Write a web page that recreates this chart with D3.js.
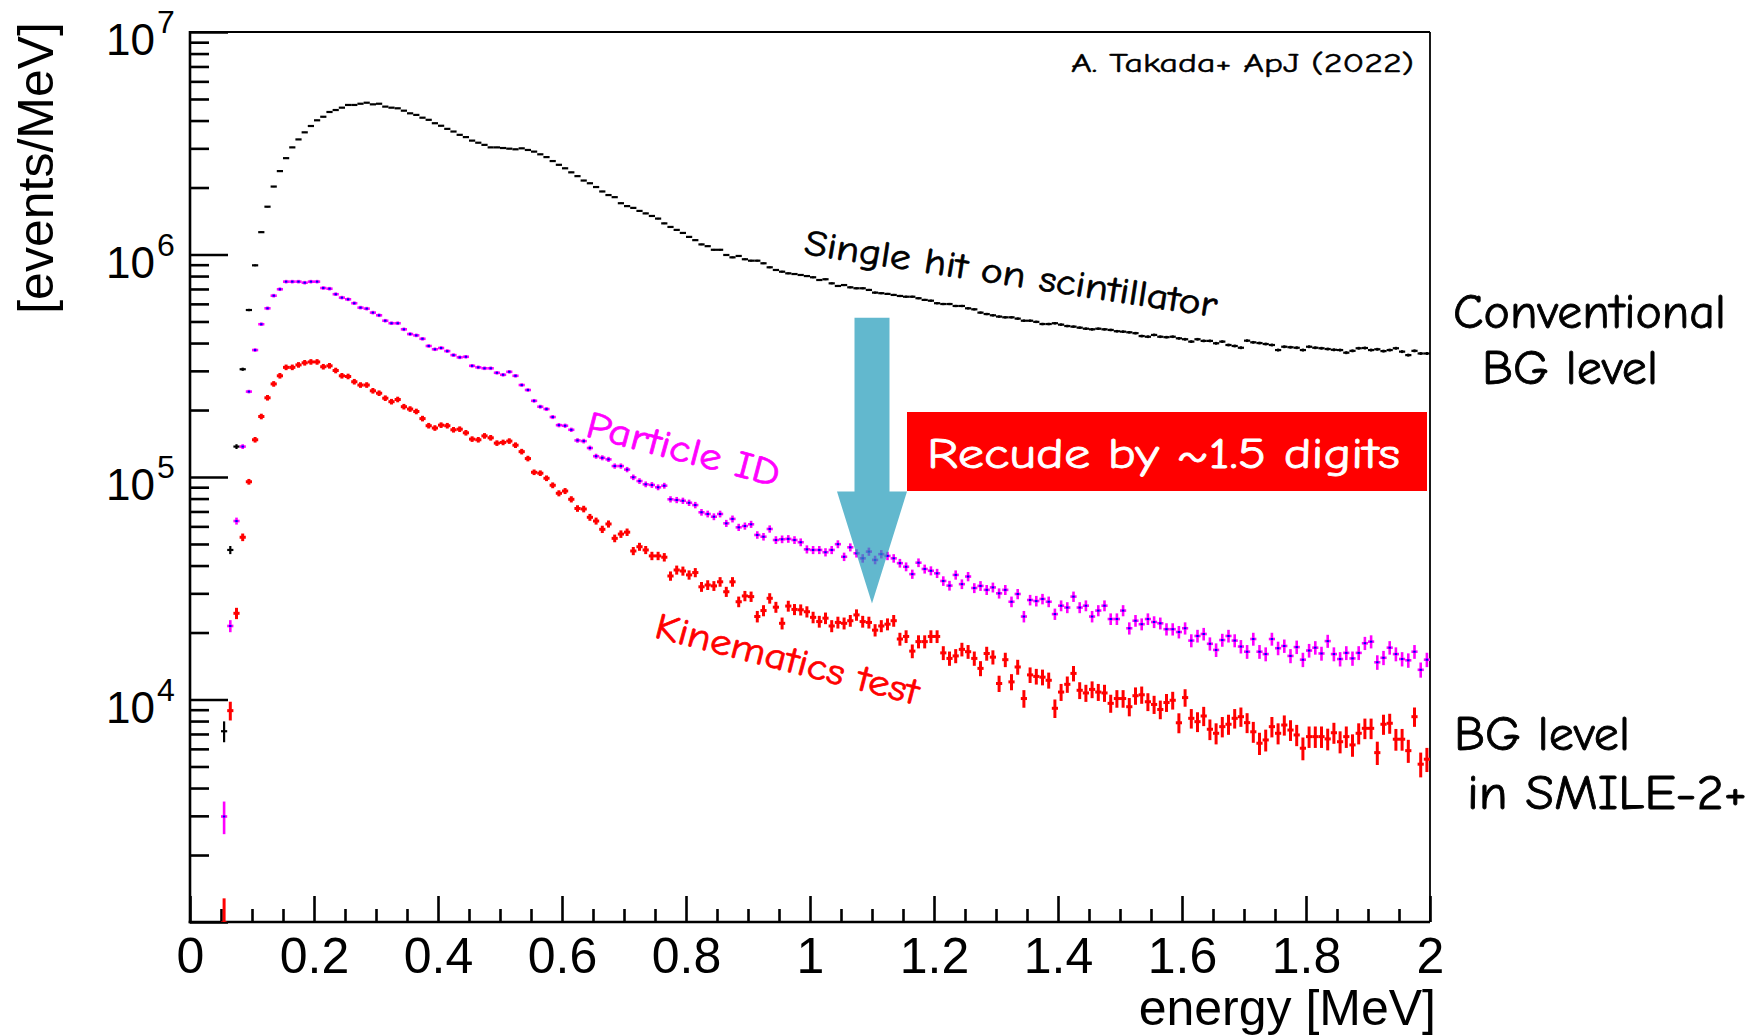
<!DOCTYPE html>
<html><head><meta charset="utf-8">
<script src="https://cdn.jsdelivr.net/npm/d3@7"></script>
<style>
body{margin:0;background:#fff}
svg{display:block}
</style>
</head><body>
<svg id="chart" width="1756" height="1035"></svg>
<script>
// Energy spectra, 0.01 MeV bins, first filled bin starts at 0.05 MeV
const binWidth = 0.01;
const firstBinLow = 0.05;

// Single hit on scintillator (events/MeV)
const singleHit = [
  7200, 47000, 137000, 305000, 563000, 894000, 1260000, 1640000, 2020000, 2370000,
  2710000, 3030000, 3290000, 3540000, 3780000, 4010000, 4160000, 4370000, 4460000, 4570000,
  4700000, 4700000, 4760000, 4810000, 4730000, 4760000, 4620000, 4570000, 4540000, 4430000,
  4310000, 4240000, 4120000, 4030000, 3890000, 3790000, 3670000, 3570000, 3450000, 3370000,
  3250000, 3180000, 3110000, 3030000, 3030000, 3010000, 2990000, 2970000, 3000000, 2950000,
  2900000, 2820000, 2740000, 2630000, 2530000, 2440000, 2340000, 2250000, 2150000, 2090000,
  2010000, 1920000, 1850000, 1810000, 1700000, 1650000, 1620000, 1570000, 1530000, 1490000,
  1450000, 1380000, 1330000, 1290000, 1250000, 1200000, 1160000, 1110000, 1090000, 1050000,
  1050000, 995000, 971000, 985000, 952000, 938000, 938000, 913000, 876000, 852000,
  837000, 823000, 817000, 809000, 800000, 790000, 768000, 774000, 742000, 722000,
  729000, 712000, 705000, 705000, 693000, 674000, 670000, 665000, 658000, 651000,
  646000, 646000, 636000, 625000, 620000, 604000, 599000, 599000, 587000, 587000,
  573000, 567000, 548000, 540000, 533000, 526000, 522000, 522000, 515000, 504000,
  504000, 498000, 487000, 487000, 491000, 484000, 477000, 474000, 469000, 464000,
  461000, 464000, 461000, 458000, 452000, 450000, 447000, 443000, 430000, 427000,
  435000, 427000, 425000, 427000, 420000, 416000, 406000, 416000, 409000, 409000,
  399000, 406000, 392000, 388000, 381000, 410000, 403000, 400000, 396000, 392000,
  372000, 385000, 383000, 381000, 372000, 385000, 381000, 379000, 376000, 373000,
  372000, 362000, 369000, 379000, 380000, 372000, 375000, 368000, 372000, 379000,
  366000, 353000, 369000, 359000, 359000
];

// After particle identification
const particleId = [
  2980, 21400, 63400, 137000, 242000, 372000, 486000, 573000, 653000, 698000,
  755000, 755000, 755000, 747000, 755000, 755000, 707000, 702000, 663000, 640000,
  629000, 604000, 577000, 571000, 548000, 533000, 504000, 491000, 491000, 461000,
  439000, 433000, 418000, 388000, 375000, 380000, 368000, 353000, 345000, 347000,
  316000, 311000, 308000, 308000, 294000, 288000, 297000, 285000, 259000, 246000,
  220000, 207000, 202000, 186000, 171000, 170000, 163000, 146000, 145000, 135000,
  124000, 122000, 120000, 112000, 112000, 108000, 99700, 95900, 92700, 92100,
  89900, 91400, 79400, 78800, 78200, 76600, 74800, 69400, 68200, 66300,
  68200, 61900, 64800, 59400, 60200, 61300, 54900, 53900, 58400, 52100,
  52500, 52700, 52100, 50900, 47300, 47000, 47000, 45900, 47000, 49900,
  43800, 48300, 45400, 43100, 46200, 42400, 45000, 44200, 43100, 41000,
  39500, 36600, 41200, 38600, 37900, 36900, 34100, 32500, 36300, 33000,
  35700, 31700, 32400, 31100, 31900, 30000, 31100, 27500, 29800, 23600,
  28000, 27700, 28300, 27500, 24200, 26400, 25900, 29000, 25900, 26400,
  23600, 25100, 26400, 23000, 23000, 25100, 20900, 22600, 21800, 23000,
  22300, 22000, 20700, 20700, 20100, 20900, 18400, 19300, 19700, 17800,
  16700, 18500, 19300, 18400, 17300, 16400, 18700, 16400, 16000, 18700,
  17000, 17400, 15700, 17200, 15100, 16600, 17100, 16100, 18300, 16000,
  15200, 16200, 15300, 16200, 17900, 18200, 14700, 15400, 17100, 16000,
  15200, 15000, 16400, 13600, 15100
];

// After the kinematics test
const kinematics = [
  990, 8910, 24400, 53600, 95200, 147000, 187000, 227000, 262000, 285000,
  311000, 311000, 319000, 326000, 329000, 329000, 313000, 316000, 301000, 285000,
  283000, 268000, 259000, 259000, 244000, 238000, 226000, 218000, 223000, 207000,
  202000, 197000, 183000, 170000, 166000, 171000, 170000, 163000, 164000, 158000,
  148000, 147000, 153000, 150000, 142000, 143000, 145000, 139000, 130000, 121000,
  105000, 104000, 98700, 91800, 84500, 86500, 79400, 72200, 71800, 65900,
  63400, 58200, 61500, 53000, 55400, 56500, 46500, 48600, 47000, 44200,
  44200, 43600, 35900, 38200, 37800, 36300, 37200, 32100, 32700, 32400,
  33800, 30500, 33800, 27500, 29200, 29000, 23600, 25100, 28500, 26000,
  22000, 26300, 25400, 25300, 24800, 23400, 22400, 23200, 21400, 22200,
  22000, 22600, 24000, 22400, 22200, 20500, 21400, 21800, 22600, 18700,
  19200, 16500, 18200, 18200, 19200, 19200, 16200, 15300, 15700, 16800,
  16400, 15300, 13800, 16100, 15500, 11800, 15100, 12000, 14000, 10100,
  12900, 12700, 12600, 12200, 9130, 10800, 11700, 13100, 11000, 10700,
  11100, 10800, 10700, 9610, 10100, 10100, 9280, 10400, 10500, 9770,
  9500, 9020, 9690, 9920, 7860, 10200, 8230, 7950, 8430, 7350,
  7050, 7550, 7740, 8230, 8370, 7870, 7160, 6360, 6580, 7550,
  7050, 7680, 7290, 6930, 6040, 6810, 6810, 6810, 6650, 7090,
  6460, 6810, 6250, 7050, 7420, 7420, 5770, 7740, 7820, 6630,
  6630, 5890, 8370, 5120, 5390
];

// Poisson errors: counts per bin = value * countsPerUnit
const countsPerUnit = 0.012;

const xMajorTicks = [0, 0.2, 0.4, 0.6, 0.8, 1, 1.2, 1.4, 1.6, 1.8, 2];
const xTickLabels = ["0", "0.2", "0.4", "0.6", "0.8", "1", "1.2", "1.4", "1.6", "1.8", "2"];
const yDecadeExponents = [3, 4, 5, 6, 7];
const yLabelExponents = ["4", "5", "6", "7"];

// Guide arrow at 1.1 MeV, from the single-hit level down to the kinematics level
const arrowEnergy = 1.1;
const arrowTop = 5.2e5, arrowHeadBase = 8.6e4, arrowTip = 2.7e4;

(function () {
const svg = d3.select("#chart");
const plotLeft = 190, plotRight = 1430, plotTop = 32, plotBottom = 922;

const x = d3.scaleLinear().domain([0, 2]).range([plotLeft, plotRight]);
const y = d3.scaleLog().domain([1e3, 1e7]).range([plotBottom, plotTop]);

const axisFont = "'Liberation Sans', Arial, Helvetica, sans-serif";
const handFont = "'Comic Sans MS', 'Comic Neue', 'DejaVu Sans', sans-serif";

svg.append("defs").append("clipPath").attr("id", "plotClip")
  .append("rect").attr("x", plotLeft).attr("y", plotTop)
  .attr("width", plotRight - plotLeft).attr("height", plotBottom - plotTop);

// ---- axes ----
const xMinor = d3.range(0, 41).map(i => i * 0.05).filter(v => Math.abs(v * 5 - Math.round(v * 5)) > 1e-6);
const gxMinor = svg.append("g").attr("transform", `translate(0,${plotBottom})`)
  .call(d3.axisTop(x).tickValues(xMinor).tickSize(13).tickFormat(""));
const gxMajor = svg.append("g").attr("transform", `translate(0,${plotBottom})`)
  .call(d3.axisTop(x).tickValues(xMajorTicks).tickSize(26).tickFormat(""));
const gxLab = svg.append("g").attr("transform", `translate(0,${plotBottom})`)
  .call(d3.axisBottom(x).tickValues(xMajorTicks).tickSize(0).tickPadding(15)
    .tickFormat((d, i) => xTickLabels[i]));
gxLab.selectAll("text").attr("font-family", axisFont).attr("font-size", 50).attr("fill", "#000");

const yMinor = [];
yDecadeExponents.slice(0, -1).forEach(e => { for (let m = 2; m <= 9; m++) yMinor.push(m * Math.pow(10, e)); });
const yMajor = yDecadeExponents.map(e => Math.pow(10, e));
const gyMinor = svg.append("g").attr("transform", `translate(${plotLeft},0)`)
  .call(d3.axisRight(y).tickValues(yMinor).tickSize(19).tickFormat(""));
const gyMajor = svg.append("g").attr("transform", `translate(${plotLeft},0)`)
  .call(d3.axisRight(y).tickValues(yMajor).tickSize(38).tickFormat(""));

[gxMinor, gxMajor, gxLab, gyMinor, gyMajor].forEach(g => {
  g.select(".domain").remove();
  g.selectAll(".tick line").attr("stroke", "#000").attr("stroke-width", 2.6);
});

// y tick labels: 10 with superscript exponent
yLabelExponents.forEach(e => {
  const yy = y(Math.pow(10, +e));
  svg.append("text").attr("x", 155).attr("y", yy + 23).attr("text-anchor", "end")
    .attr("font-family", axisFont).attr("font-size", 44).text("10");
  svg.append("text").attr("x", 157).attr("y", yy + 1)
    .attr("font-family", axisFont).attr("font-size", 32).text(e);
});

// frame
svg.append("line").attr("x1", plotLeft).attr("x2", plotRight).attr("y1", plotTop).attr("y2", plotTop)
  .attr("stroke", "#000").attr("stroke-width", 1.8);
svg.append("line").attr("x1", plotRight).attr("x2", plotRight).attr("y1", plotTop).attr("y2", plotBottom)
  .attr("stroke", "#000").attr("stroke-width", 1.8);
svg.append("line").attr("x1", plotLeft).attr("x2", plotLeft).attr("y1", plotTop - 1).attr("y2", plotBottom + 1.3)
  .attr("stroke", "#000").attr("stroke-width", 2.6);
svg.append("line").attr("x1", plotLeft - 1.3).attr("x2", plotRight).attr("y1", plotBottom).attr("y2", plotBottom)
  .attr("stroke", "#000").attr("stroke-width", 2.6);

// axis titles
svg.append("text").attr("x", 1436).attr("y", 1025).attr("text-anchor", "end")
  .attr("font-family", axisFont).attr("font-size", 50).text("energy [MeV]");
svg.append("text").attr("transform", "translate(53,22) rotate(-90)").attr("text-anchor", "end")
  .attr("font-family", axisFont).attr("font-size", 50).text("[events/MeV]");

// ---- data: bins with horizontal bin-width bar and Poisson vertical error ----
const plot = svg.append("g").attr("clip-path", "url(#plotClip)");

function bins(values) {
  return values.map((v, i) => {
    const lo = firstBinLow + binWidth * i;
    const err = Math.sqrt(v / countsPerUnit);
    return { lo, hi: lo + binWidth, mid: lo + binWidth / 2, v, up: v + err, dn: Math.max(v - err, 1) };
  });
}

function drawSeries(values, color, width, marker) {
  const g = plot.append("g");
  const data = bins(values);
  g.selectAll("line.h").data(data).join("line").attr("class", "h")
    .attr("x1", d => x(d.lo)).attr("x2", d => x(d.hi))
    .attr("y1", d => y(d.v)).attr("y2", d => y(d.v))
    .attr("stroke", color).attr("stroke-width", width);
  g.selectAll("line.v").data(data).join("line").attr("class", "v")
    .attr("x1", d => x(d.mid)).attr("x2", d => x(d.mid))
    .attr("y1", d => Math.min(y(d.up), y(d.v) - marker.minHalf))
    .attr("y2", d => Math.max(y(d.dn), y(d.v) + marker.minHalf))
    .attr("stroke", color).attr("stroke-width", width);
  if (marker.fill) {
    g.selectAll("rect").data(data).join("rect")
      .attr("x", d => x(d.mid) - marker.w / 2).attr("y", d => y(d.v) - marker.h / 2)
      .attr("width", marker.w).attr("height", marker.h).attr("fill", marker.fill);
  }
}

drawSeries(singleHit, "#000", 2.2, { minHalf: 0 });
drawSeries(particleId, "#ff00ff", 2.6, { minHalf: 1.8, fill: "#0000ff", w: 2.4, h: 2 });
drawSeries(kinematics, "#ff0000", 3, { minHalf: 2.8 });

// ---- annotations ----
function handText(sel, color, weight) {
  return sel.attr("font-family", handFont).attr("fill", color)
    .attr("stroke", color).attr("stroke-width", weight).attr("paint-order", "stroke")
    .attr("lengthAdjust", "spacingAndGlyphs");
}

handText(svg.append("text"), "#000", 0.5).attr("x", 1414).attr("y", 72).attr("text-anchor", "end")
  .attr("font-size", 27).attr("textLength", 343)
  .text("A. Takada+ ApJ (2022)");

handText(svg.append("text"), "#000", 0.7).attr("transform", "translate(803,254) rotate(8.7)")
  .attr("font-size", 36).attr("textLength", 417)
  .text("Single hit on scintillator");

handText(svg.append("text"), "#ff00ff", 0.7).attr("transform", "translate(584,436) rotate(14.8)")
  .attr("font-size", 38).attr("textLength", 199)
  .text("Particle ID");

handText(svg.append("text"), "#ff0000", 0.7).attr("transform", "translate(653,637) rotate(14.5)")
  .attr("font-size", 37).attr("textLength", 271)
  .text("Kinematics test");

// arrow
const ax = x(arrowEnergy);
const shaftHalf = 17.5, headHalf = 35;
const arrowPts = [
  [ax - shaftHalf, y(arrowTop)], [ax + shaftHalf, y(arrowTop)],
  [ax + shaftHalf, y(arrowHeadBase)], [ax + headHalf, y(arrowHeadBase)],
  [ax, y(arrowTip)],
  [ax - headHalf, y(arrowHeadBase)], [ax - shaftHalf, y(arrowHeadBase)]
];
svg.append("path").attr("d", d3.line()(arrowPts) + "Z")
  .attr("fill", "rgb(31,154,185)").attr("fill-opacity", 0.7);

// red message box
svg.append("rect").attr("x", 907).attr("y", 412).attr("width", 520).attr("height", 79).attr("fill", "#ff0000");
handText(svg.append("text"), "#fff", 0.8).attr("x", 927).attr("y", 468)
  .attr("font-size", 42).attr("textLength", 473)
  .text("Recude by ~1.5 digits");

// right-hand labels
const sideLabels = [
  { t: "Conventional", x: 1453, y: 328, w: 273 },
  { t: "BG level", x: 1482, y: 384, w: 176 },
  { t: "BG level", x: 1454, y: 750, w: 176 },
  { t: "in SMILE-2+", x: 1467, y: 809, w: 280 }
];
sideLabels.forEach(s => {
  handText(svg.append("text"), "#000", 0.8).attr("x", s.x).attr("y", s.y)
    .attr("font-size", 48).attr("textLength", s.w).text(s.t);
});
})();
</script>
</body></html>
